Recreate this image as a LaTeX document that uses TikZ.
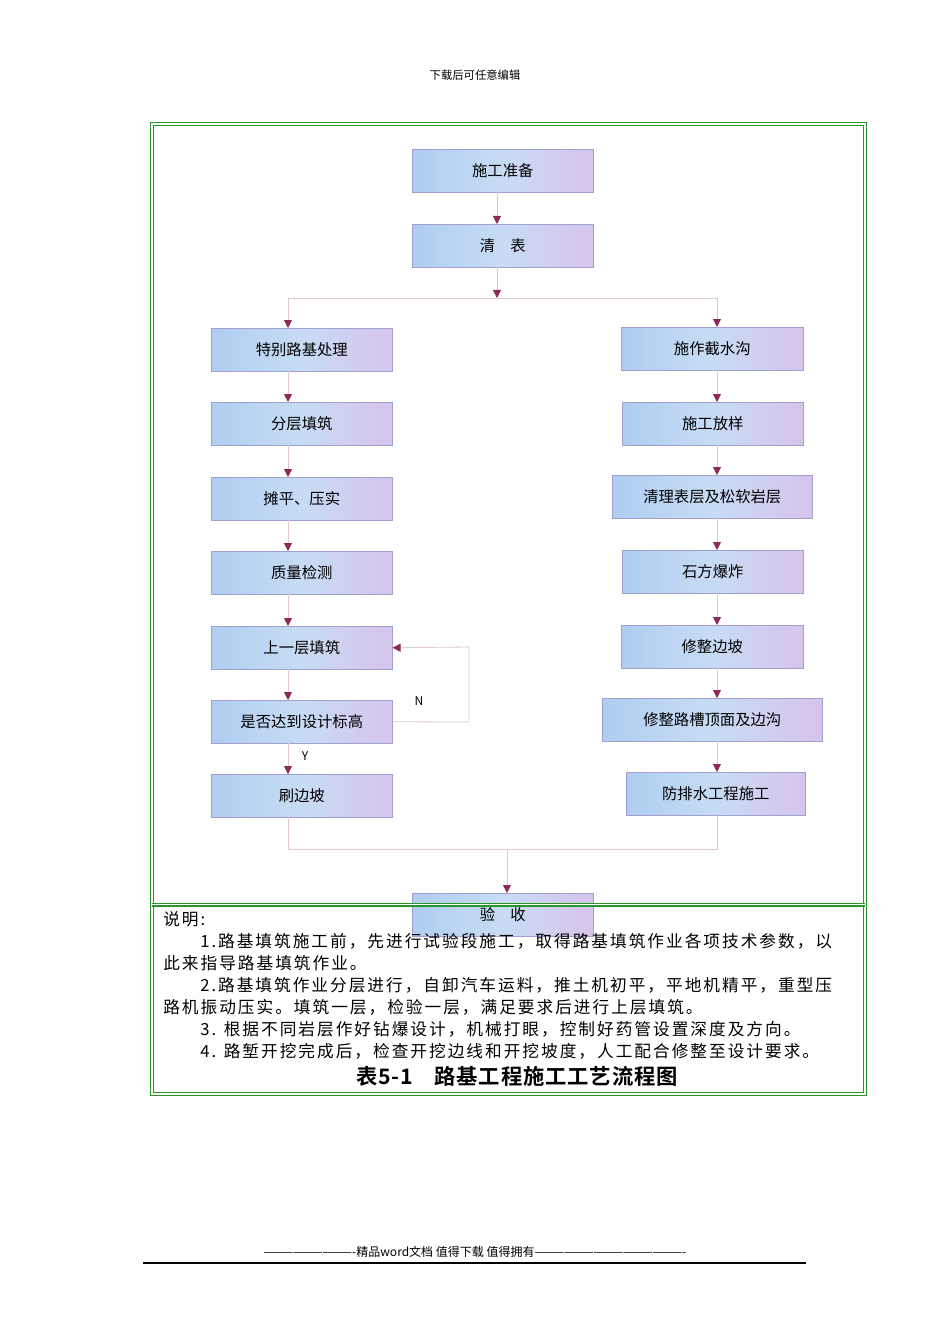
\documentclass[tikz,border=0pt]{standalone}
\usepackage{fontspec}
\setmainfont{Noto Sans CJK SC}
\newfontfamily\cjkn[LetterSpace=12]{Noto Sans CJK SC}
\newfontfamily\cjkb[LetterSpace=4]{Noto Sans CJK SC Bold}
\usetikzlibrary{arrows.meta}
\definecolor{arr}{RGB}{140,40,90}
\definecolor{ln}{RGB}{222,200,215}
\definecolor{bxa}{RGB}{175,205,240}
\definecolor{bxb}{RGB}{215,195,235}
\definecolor{bxe}{RGB}{160,160,210}
\definecolor{grn}{RGB}{40,150,40}
\tikzset{
 bx/.style={draw=bxe,left color=bxa,right color=bxb,middle color=bxa!70!white,minimum height=32.25pt,inner sep=0pt,font=\fontsize{11.5pt}{13pt}\selectfont,anchor=north west},
 ar/.style={draw=ln,line width=0.6pt,-{Triangle[length=6pt,width=6pt,color=arr]}},
 pl/.style={draw=ln,line width=0.6pt},
 nt/.style={anchor=west,inner sep=0pt,font=\fontsize{12.5pt}{14pt}\cjkn},
 dbl/.style={draw=grn,double=white,double distance=1.2pt,line width=0.9pt}
}
\begin{document}
\begin{tikzpicture}[x=0.75pt,y=-0.75pt]
\useasboundingbox (0,0) rectangle (950,1344);
\fill[white] (0,0) rectangle (950,1344);
\node[font=\fontsize{8.5pt}{10pt}\selectfont] (hd) at (475,75) {下载后可任意编辑};
% boxes
\newcommand{\bxn}[6]{\node[bx,minimum width={(#4-#2)*0.75pt}] (#1) at (#2,#3) {#6};}
\bxn{a}{412}{149}{593}{0}{施工准备}
\bxn{b}{412}{224}{593}{0}{清\quad 表}
\bxn{l1}{211}{328}{392}{0}{特别路基处理}
\bxn{l2}{211}{402}{392}{0}{分层填筑}
\bxn{l3}{211}{477}{392}{0}{摊平、压实}
\bxn{l4}{211}{551}{392}{0}{质量检测}
\bxn{l5}{211}{626}{392}{0}{上一层填筑}
\bxn{l6}{211}{700}{392}{0}{是否达到设计标高}
\bxn{l7}{211}{774}{392}{0}{刷边坡}
\bxn{r1}{621}{327}{803}{0}{施作截水沟}
\bxn{r2}{622}{402}{803}{0}{施工放样}
\bxn{r3}{612}{475}{812}{0}{清理表层及松软岩层}
\bxn{r4}{622}{550}{803}{0}{石方爆炸}
\bxn{r5}{621}{625}{803}{0}{修整边坡}
\bxn{r6}{602}{698}{822}{0}{修整路槽顶面及边沟}
\bxn{r7}{626}{772}{805}{0}{防排水工程施工}
\bxn{c}{412}{893}{593}{0}{验\quad 收}
% connectors
\coordinate (s) at (497,298);
\coordinate (sl) at (288,298);
\coordinate (sr) at (717,298);
\draw[ar] (497,192) -- (497,224);
\draw[ar] (497,267) -- (s);
\draw[pl] (sl) -- (sr);
\draw[ar] (sl) -- (288,328);
\draw[ar] (sr) -- (717,327);
\foreach \u/\v/\y/\z in {l1/l2/371/402,l2/l3/445/477,l3/l4/520/551,l4/l5/594/626,l5/l6/669/700,l6/l7/743/774}{\draw[ar] (288,\y) -- (288,\z);}
\foreach \y/\z in {370/402,445/475,518/550,593/625,668/698,741/772}{\draw[ar] (717,\y) -- (717,\z);}
\coordinate (fb1) at (469,722);
\coordinate (fb2) at (469,647);
\draw[ar] (l6.east) -- (fb1) -- (fb2) -- (l5.east);
\node[font=\fontsize{9pt}{10pt}\selectfont] (nN) at (419,701) {N};
\node[font=\fontsize{9pt}{10pt}\selectfont] (nY) at (305,756) {Y};
\coordinate (m) at (507,849);
\draw[pl] (288,817) -- (288,849) -- (717,849) -- (717,815);
\draw[ar] (m) -- (507,893);
% frame
\draw[dbl] (152,124) rectangle (865,1094);
\draw[dbl] (152,904.5) -- (865,904.5);
% notes
\node[nt] (t0) at (163,919) {说明:};
\node[nt] (t1) at (200,941) {1.路基填筑施工前，先进行试验段施工，取得路基填筑作业各项技术参数，以};
\node[nt] (t2) at (163,963) {此来指导路基填筑作业。};
\node[nt] (t3) at (200,985) {2.路基填筑作业分层进行，自卸汽车运料，推土机初平，平地机精平，重型压};
\node[nt] (t4) at (163,1007) {路机振动压实。填筑一层，检验一层，满足要求后进行上层填筑。};
\node[nt] (t5) at (200,1029) {3. 根据不同岩层作好钻爆设计，机械打眼，控制好药管设置深度及方向。};
\node[nt] (t6) at (200,1051) {4. 路堑开挖完成后，检查开挖边线和开挖坡度，人工配合修整至设计要求。};
\node[font=\fontsize{16pt}{18pt}\cjkb] (cap) at (517,1076) {表5-1\quad 路基工程施工工艺流程图};
% footer
\node[font=\fontsize{9pt}{10pt}\selectfont] (ft) at (475,1252) {----------------------------精品word文档\ 值得下载\ 值得拥有----------------------------------------------};
\draw[line width=0.8pt] (143,1263) -- (806,1263);
\end{tikzpicture}
\end{document}
